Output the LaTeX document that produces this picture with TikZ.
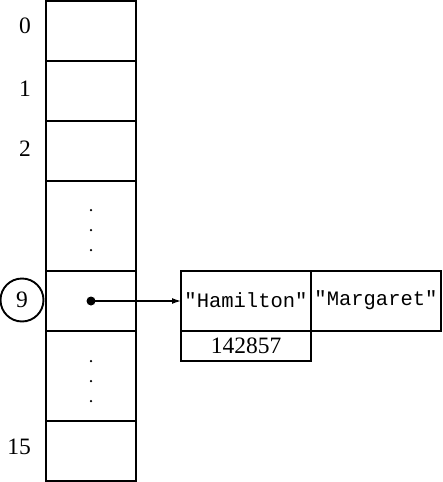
\documentclass[tikz,border=0pt]{standalone}
\usepackage{fontspec}
\setmainfont{Liberation Serif}
\setmonofont{Liberation Mono}
\usetikzlibrary{arrows.meta}
\begin{document}
\begin{tikzpicture}[x=1pt,y=-1pt,
  cell/.style={draw,line width=1.9pt,minimum width=90pt,inner sep=0pt,outer sep=0pt},
  rec/.style={draw,line width=1.9pt,inner sep=0pt,outer sep=0pt,minimum width=130pt},
  idx/.style={font=\fontsize{23.5}{23.5}\selectfont,inner sep=0pt},
  str/.style={font=\fontsize{20.5}{20.5}\selectfont\ttfamily},
  dotc/.style={fill,circle,inner sep=0pt,minimum size=2.5pt}]
\useasboundingbox (0,0) rectangle (443,482);
% array cells
\node[cell,minimum height=60pt] (c0) at (91,31) {};
\node[cell,minimum height=60pt] (c1) at (91,91) {};
\node[cell,minimum height=60pt] (c2) at (91,151) {};
\node[cell,minimum height=90pt] (cd1) at (91,226) {};
\node[cell,minimum height=60pt] (c9) at (91,301) {};
\node[cell,minimum height=90pt] (cd2) at (91,376) {};
\node[cell,minimum height=60pt] (c15) at (91,451) {};
% dots
\node[dotc] (d1) at (91,210) {};
\node[dotc] (d2) at (91,230) {};
\node[dotc] (d3) at (91,250) {};
\node[dotc] (d4) at (91,361) {};
\node[dotc] (d5) at (91,381) {};
\node[dotc] (d6) at (91,401) {};
% labels
\node[idx] (l0) at (25,26) {0};
\node[idx] (l1) at (25,89) {1};
\node[idx] (l2) at (25,149) {2};
\node[idx] (l15) at (19,447) {15};
\node[draw,circle,line width=1.9pt,minimum size=43pt,inner sep=0pt,font=\fontsize{23.5}{23.5}\selectfont] (l9) at (22,300) {9};
% record
\node[rec,minimum height=60pt] (r1) at (246,301) {};
\node[str] (s1) at (246,300) {"Hamilton"};
\node[rec,minimum height=60pt] (r2) at (376,301) {};
\node[str] (s2) at (376,300) {"Margaret"};
\node[rec,minimum height=30pt] (r3) at (246,346) {};
\node[idx] (n1) at (246,346) {142857};
% pointer
\node[fill,circle,inner sep=0pt,minimum size=9pt] (p) at (91,301) {};
\draw[line width=1.3pt,-{Latex[length=9pt,width=6pt]}] (p.center) -- (r1.west);
\end{tikzpicture}
\end{document}
